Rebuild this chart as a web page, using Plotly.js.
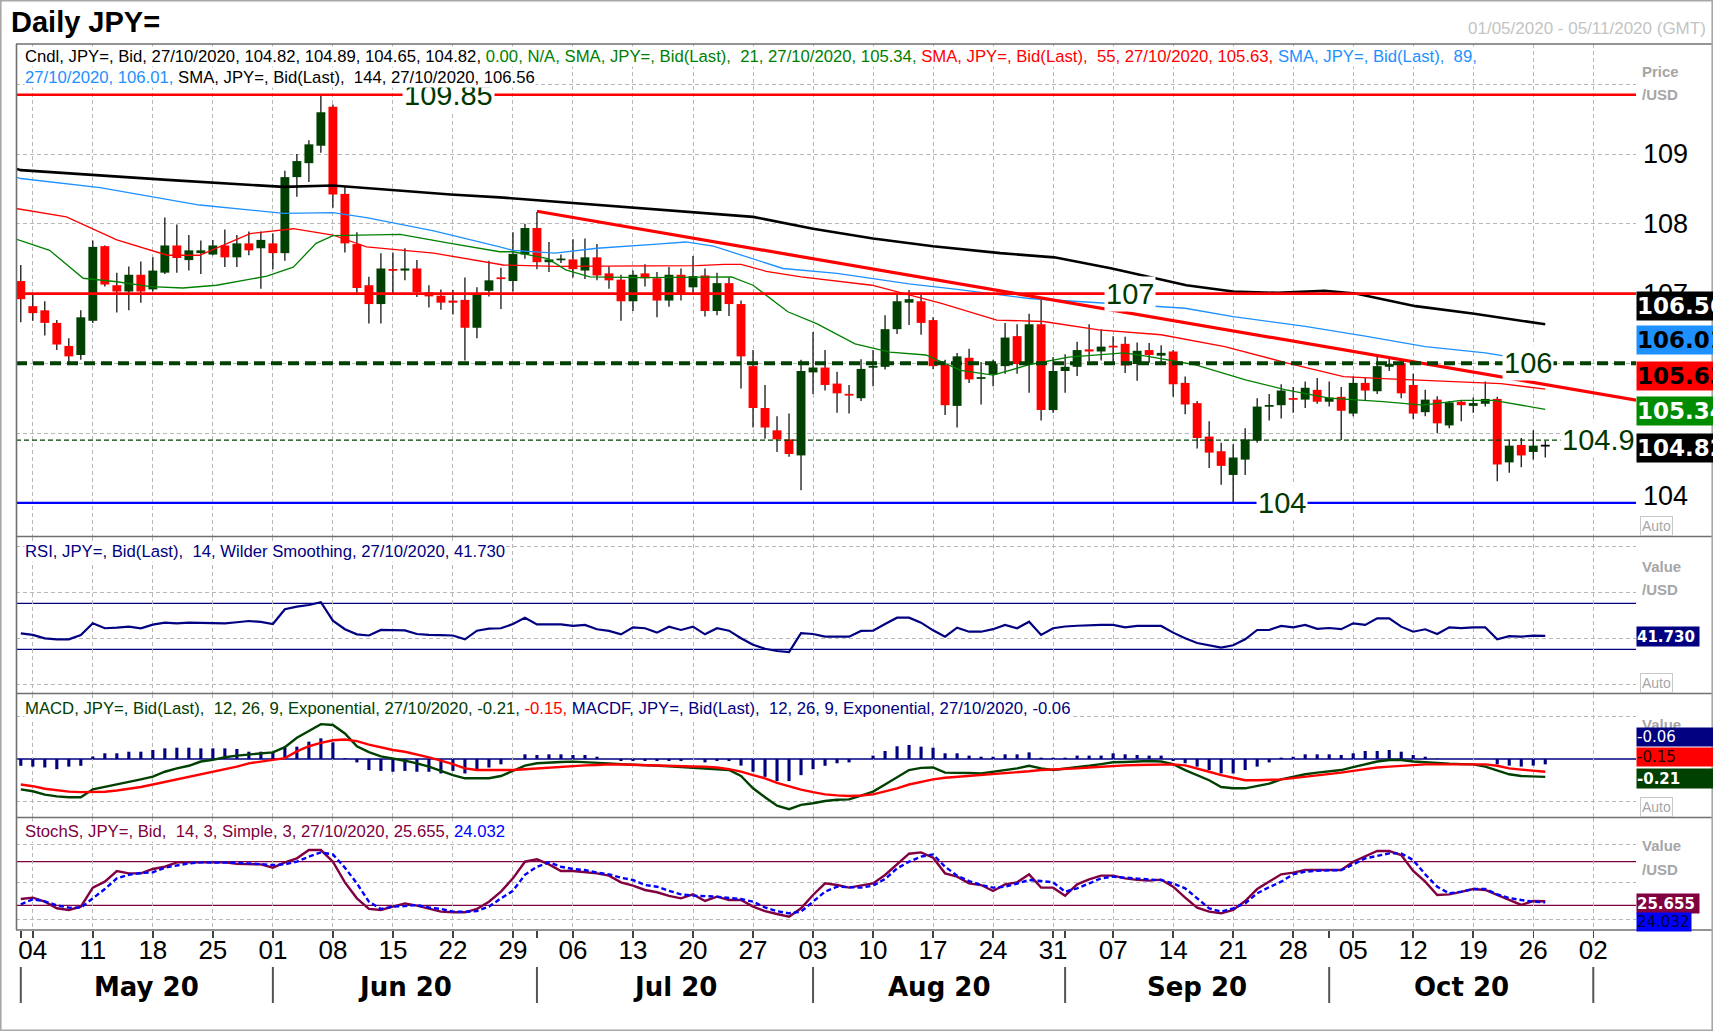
<!DOCTYPE html>
<html><head><meta charset="utf-8">
<script src="https://cdn.plot.ly/plotly-3.0.1.min.js"></script>
<style>html,body{margin:0;padding:0;background:#fff;}#chart{width:1713px;height:1031px;}</style>
</head><body><div id="chart"></div>
<script>
// ---------- DATA (daily JPY=, 01/05/2020 .. 27/10/2020, one row per week) ----------
const openP = [
 107.18,
 106.82,106.76,106.58,106.25,106.12,
 106.61,107.68,107.12,107.03,107.27,
 107.06,107.30,107.69,107.48,107.58,
 107.56,107.69,107.52,107.72,107.65,
 107.72,107.58,108.67,108.87,109.12,
 109.68,108.43,107.71,107.12,106.85,
 107.35,107.33,107.36,107.02,106.97,
 106.90,106.91,106.51,107.04,107.23,
 107.18,107.56,107.94,107.45,107.48,
 107.49,107.33,107.52,107.29,107.20,
 106.89,107.29,107.22,106.90,107.27,
 107.09,107.26,106.75,107.15,106.85,
 105.96,105.36,105.04,104.91,104.68,
 105.87,105.94,105.71,105.56,105.50,
 105.94,105.95,106.49,106.87,106.89,
 106.62,105.98,105.39,106.08,105.78,
 105.84,105.96,106.39,105.99,106.56,
 105.33,105.89,105.95,106.20,106.17,
 106.25,106.28,105.99,106.19,106.11,
 106.17,105.72,105.43,104.95,104.74,
 104.40,104.62,104.89,105.38,105.40,
 105.50,105.48,105.62,105.45,105.52,
 105.28,105.72,105.60,105.95,106.00,
 105.69,105.30,105.48,105.11,105.45,
 105.39,105.42,105.49,104.58,104.83,
 104.73,104.82];
const highP = [
 107.41,
 107.00,106.89,106.62,106.36,106.76,
 107.76,107.69,107.30,107.39,107.46,
 107.52,108.09,107.99,107.84,107.76,
 107.77,107.92,107.84,107.89,107.89,
 107.86,108.76,109.00,109.20,109.85,
 109.71,108.54,107.88,107.24,107.58,
 107.59,107.65,107.48,107.12,107.06,
 107.05,107.23,107.09,107.47,107.37,
 107.88,108.00,108.17,107.74,107.56,
 107.78,107.79,107.71,107.39,107.27,
 107.33,107.42,107.31,107.38,107.36,
 107.54,107.36,107.30,107.23,106.90,
 106.19,105.69,105.24,105.28,106.05,
 106.45,106.19,105.88,105.69,106.06,
 106.19,106.69,107.00,107.05,106.98,
 106.66,106.05,106.15,106.21,106.02,
 106.05,106.58,106.56,106.71,106.95,
 106.09,106.13,106.31,106.56,106.49,
 106.39,106.38,106.30,106.29,106.26,
 106.19,105.81,105.46,105.17,104.86,
 104.84,105.07,105.50,105.56,105.70,
 105.66,105.74,105.79,105.74,105.66,
 105.81,105.79,106.11,106.10,106.05,
 105.85,105.62,105.53,105.46,105.47,
 105.51,105.74,105.52,104.91,104.93,
 105.04,104.89];
const lowP = [
 106.59,
 106.61,106.40,106.19,105.99,106.05,
 106.58,107.10,106.73,106.76,106.87,
 107.03,107.28,107.30,107.33,107.28,
 107.55,107.38,107.38,107.55,107.07,
 107.35,107.47,108.39,108.60,109.02,
 108.23,107.59,106.98,106.57,106.57,
 107.00,107.19,106.95,106.80,106.77,
 106.70,106.04,106.36,106.96,106.78,
 107.03,107.50,107.35,107.31,107.44,
 107.23,107.21,107.19,107.07,106.61,
 106.75,107.10,106.66,106.81,106.90,
 107.01,106.67,106.69,106.68,105.64,
 105.08,104.92,104.73,104.66,104.18,
 105.56,105.61,105.29,105.28,105.46,
 105.67,105.91,106.42,106.55,106.41,
 105.92,105.26,105.08,105.72,105.41,
 105.67,105.85,105.85,105.58,105.18,
 105.29,105.58,105.82,106.03,106.04,
 106.00,105.86,105.75,106.01,105.98,
 105.52,105.27,104.78,104.50,104.26,
 104.00,104.40,104.86,105.18,105.21,
 105.29,105.36,105.42,105.38,104.90,
 105.24,105.46,105.56,105.89,105.50,
 105.20,105.24,105.00,105.07,105.17,
 105.29,105.38,104.31,104.43,104.51,
 104.62,104.65];
const closeP = [
 106.92,
 106.72,106.58,106.27,106.10,106.66,
 107.67,107.13,107.03,107.27,107.03,
 107.33,107.69,107.51,107.62,107.62,
 107.69,107.52,107.72,107.62,107.77,
 107.58,108.67,108.90,109.14,109.60,
 108.42,107.72,107.08,106.85,107.36,
 107.33,107.36,107.02,106.96,106.87,
 106.87,106.51,106.99,107.19,107.21,
 107.57,107.94,107.45,107.49,107.50,
 107.35,107.52,107.26,107.19,106.89,
 107.27,107.22,106.90,107.27,106.98,
 107.25,106.75,107.15,106.85,106.10,
 105.36,105.08,104.91,104.70,105.89,
 105.94,105.69,105.57,105.54,105.92,
 105.96,106.49,106.89,106.92,106.58,
 105.96,105.40,106.10,105.77,105.80,
 105.99,106.37,105.99,106.56,105.33,
 105.89,105.95,106.19,106.17,106.24,
 106.23,105.97,106.18,106.12,106.15,
 105.70,105.41,104.93,104.72,104.53,
 104.65,104.91,105.38,105.40,105.61,
 105.48,105.65,105.45,105.51,105.32,
 105.72,105.61,105.96,105.99,105.57,
 105.28,105.48,105.14,105.44,105.40,
 105.43,105.49,104.55,104.82,104.68,
 104.82,104.82];

// moving averages (x = trading-day position, 0 = 01/05)
const sma21X = [-0.4,2.4,5.2,8,10.8,13.5,16.3,20.5,22.7,24.6,26,30.2,31.6,35.8,39.9,41,43.9,45.4,47.4,51.8,56.3,59.2,61,63.9,66.3,69.5,72.4,75.4,78.3,79.4,81,84,87.3,91.9,93.9,97.8,102.1,105.4,109,113.5,116.8,120,122.7,127];
const sma21Y = [107.78,107.62,107.22,107.17,107.10,107.08,107.12,107.25,107.38,107.72,107.83,107.85,107.85,107.72,107.60,107.60,107.50,107.34,107.24,107.23,107.24,107.24,107.12,106.74,106.57,106.28,106.16,106.12,105.90,105.87,105.83,105.98,106.09,106.15,106.10,105.98,105.76,105.62,105.50,105.45,105.40,105.47,105.47,105.34];
const sma55X = [-0.4,3.8,8,12.2,14.9,19.1,22.7,26,28.8,34.4,40.2,44.6,56.3,58.6,60,62.1,65,70.9,76.7,81.3,85.2,89.8,95,100.3,105.6,110.2,113.5,120,123.3,127];
const sma55Y = [108.22,108.10,107.77,107.55,107.55,107.86,107.93,107.84,107.67,107.58,107.41,107.39,107.40,107.42,107.42,107.32,107.24,107.12,106.86,106.62,106.60,106.48,106.41,106.24,106.00,105.81,105.78,105.74,105.71,105.63];
const sma89X = [-0.4,0,6.6,14.9,21.9,26,28.8,34.4,39.9,41,44.5,48,53,55.4,57.7,61,63.5,68,74,78,84,92.5,97,101,107,112,117,122,127];
const sma89Y = [108.67,108.65,108.52,108.27,108.15,108.16,108.09,107.90,107.67,107.62,107.58,107.65,107.71,107.74,107.68,107.50,107.36,107.29,107.14,107.06,106.93,106.84,106.79,106.67,106.53,106.39,106.24,106.15,106.01];
const sma144X = [-0.4,0,12.2,21.9,26,31.6,35.8,39.9,46,56.2,61,66,71,76,79.6,81.6,86.1,90.9,97.1,101,104.7,108.6,111.2,116.2,121.1,127];
const sma144Y = [108.79,108.77,108.63,108.53,108.55,108.48,108.42,108.38,108.30,108.17,108.10,107.93,107.79,107.68,107.62,107.58,107.52,107.36,107.12,107.03,107.01,107.04,107.00,106.82,106.71,106.56];

// drawn levels
const trendX = [43, 135];
const trendY = [108.18, 105.46];
const levelValues = [109.85, 107, 106, 104, 104.9];
const levelLabels = ["109.85", "107", "106", "104", "104.9"];

// RSI 14 (one value per candle)
const rsiV = [
 43.9,
 42.5,39.5,38.7,38.7,42.5,
 52.6,48.3,48.8,49.7,48.3,
 51.5,53.2,52.6,53.2,53.2,
 53.2,52.6,53.5,54.6,53.8,
 52.0,64.8,67.1,68.5,70.9,
 54.9,47.5,43.0,42.0,46.8,
 46.8,46.5,43.3,42.5,42.4,
 42.0,38.7,46.2,48.0,48.3,
 52.0,57.5,51.7,51.7,51.7,
 50.3,51.2,47.4,46.0,43.0,
 49.1,48.3,44.5,49.7,46.8,
 49.7,43.0,48.3,46.2,39.6,
 34.0,30.5,28.5,27.5,44.0,
 43.3,41.0,41.0,41.0,46.0,
 46.2,52.0,57.5,57.5,53.2,
 46.5,41.0,48.8,45.3,45.3,
 47.5,51.2,48.3,54.0,42.5,
 48.3,49.8,50.5,51.0,51.2,
 51.2,49.1,50.3,50.0,50.3,
 44.5,39.6,35.5,33.5,31.5,
 33.5,38.7,46.8,46.8,50.3,
 49.1,51.2,47.8,48.5,47.5,
 52.6,51.2,56.9,56.9,49.7,
 45.3,47.4,43.3,49.1,48.5,
 49.1,49.1,38.7,41.5,41.0,
 41.9,41.73];

// MACD 12/26/9
const macdV = [
 -0.357,
 -0.38,-0.42,-0.44,-0.45,-0.45,
 -0.357,-0.33,-0.30,-0.27,-0.24,
 -0.208,-0.15,-0.11,-0.08,-0.03,
 -0.01,0.02,0.04,0.055,0.067,
 0.078,0.14,0.25,0.33,0.41,
 0.40,0.30,0.15,0.08,0.03,
 0.008,-0.02,-0.051,-0.09,-0.141,
 -0.19,-0.227,-0.227,-0.227,-0.20,
 -0.14,-0.078,-0.05,-0.039,-0.035,
 -0.031,-0.035,-0.045,-0.051,-0.06,
 -0.065,-0.07,-0.075,-0.085,-0.095,
 -0.105,-0.11,-0.12,-0.13,-0.20,
 -0.345,-0.45,-0.55,-0.59,-0.54,
 -0.52,-0.494,-0.48,-0.475,-0.43,
 -0.384,-0.30,-0.21,-0.13,-0.105,
 -0.10,-0.16,-0.16,-0.165,-0.17,
 -0.15,-0.13,-0.11,-0.08,-0.11,
 -0.13,-0.115,-0.10,-0.08,-0.06,
 -0.039,-0.035,-0.03,-0.024,-0.03,
 -0.06,-0.13,-0.19,-0.25,-0.33,
 -0.345,-0.345,-0.32,-0.29,-0.24,
 -0.21,-0.18,-0.16,-0.145,-0.13,
 -0.095,-0.06,-0.03,-0.012,-0.012,
 -0.03,-0.04,-0.05,-0.055,-0.06,
 -0.063,-0.09,-0.135,-0.18,-0.20,
 -0.205,-0.21];
const signalV = [
 -0.30,
 -0.32,-0.35,-0.37,-0.384,-0.39,
 -0.39,-0.385,-0.37,-0.35,-0.33,
 -0.30,-0.27,-0.245,-0.215,-0.18,
 -0.15,-0.12,-0.09,-0.051,-0.03,
 -0.012,0.01,0.09,0.15,0.19,
 0.22,0.23,0.21,0.17,0.14,
 0.106,0.085,0.055,0.02,-0.02,
 -0.06,-0.11,-0.129,-0.13,-0.13,
 -0.13,-0.12,-0.11,-0.10,-0.09,
 -0.08,-0.075,-0.07,-0.063,-0.065,
 -0.07,-0.075,-0.078,-0.08,-0.085,
 -0.088,-0.09,-0.10,-0.12,-0.149,
 -0.19,-0.227,-0.28,-0.32,-0.36,
 -0.39,-0.416,-0.428,-0.435,-0.43,
 -0.416,-0.38,-0.345,-0.30,-0.267,
 -0.24,-0.22,-0.21,-0.20,-0.19,
 -0.18,-0.17,-0.155,-0.145,-0.13,
 -0.125,-0.12,-0.11,-0.10,-0.09,
 -0.08,-0.075,-0.07,-0.065,-0.063,
 -0.063,-0.075,-0.11,-0.15,-0.19,
 -0.22,-0.25,-0.25,-0.245,-0.24,
 -0.225,-0.21,-0.195,-0.18,-0.16,
 -0.14,-0.12,-0.10,-0.09,-0.08,
 -0.07,-0.063,-0.063,-0.063,-0.063,
 -0.063,-0.063,-0.08,-0.11,-0.125,
 -0.14,-0.15];
const histV = [
 -0.08,
 -0.09,-0.10,-0.12,-0.09,-0.08,
 0.03,0.067,0.067,0.086,0.086,
 0.106,0.125,0.133,0.133,0.125,
 0.125,0.125,0.118,0.086,0.086,
 0.078,0.133,0.145,0.204,0.243,
 0.196,0.01,-0.04,-0.13,-0.14,
 -0.15,-0.14,-0.15,-0.15,-0.17,
 -0.14,-0.17,-0.13,-0.10,-0.063,
 0.0,0.055,0.047,0.055,0.055,
 0.047,0.047,0.027,0.0,-0.024,
 -0.024,-0.024,-0.024,-0.024,-0.024,
 0.0,-0.04,-0.024,-0.024,-0.078,
 -0.15,-0.21,-0.26,-0.26,-0.19,
 -0.12,-0.08,-0.05,-0.04,0.0,
 0.04,0.094,0.15,0.165,0.145,
 0.133,0.067,0.067,0.04,0.027,
 0.027,0.055,0.055,0.078,0.016,
 0.016,0.016,0.04,0.04,0.04,
 0.067,0.055,0.047,0.04,0.04,
 -0.024,-0.05,-0.09,-0.13,-0.17,
 -0.17,-0.13,-0.09,-0.04,0.016,
 0.027,0.055,0.055,0.055,0.047,
 0.067,0.094,0.094,0.106,0.086,
 0.047,0.027,0.005,0,0,
 0,0,-0.063,-0.078,-0.09,
 -0.078,-0.063];

// Slow stochastic 14,3,3
const stochK = [
 28.7,
 30.5,25,15.9,13.6,18.2,
 44.3,52.5,67.2,64,64,
 70,73.1,79.1,79.1,79.1,
 79.1,79.1,77,76.3,76.3,
 71.8,79.1,84.6,96,96,
 80,51.6,29.6,15,13.6,
 18.2,22.7,19.5,15.9,11.3,
 10.4,10.4,15,25,38.8,
 57.1,80,83.2,76.3,67.2,
 67.2,66,64,60.8,51.6,
 47,41.1,38,33,29.6,
 35.1,26,31.9,27.3,27.3,
 18.2,12,8,4.4,15.9,
 34.2,50.2,47.9,44.3,47,
 50.2,61.7,76.3,91,92.8,
 85.5,64,59.4,50.2,47.9,
 39.7,48.8,51.6,62.6,44.3,
 44.3,33.3,48.8,55.7,60.8,
 60.8,57.1,55,53.9,55.3,
 45.6,30.5,16.8,11.3,9,
 13.6,25.9,42.4,52.5,62.6,
 64.9,68.5,68.5,68.5,68.5,
 80,86.9,94.7,94.7,89.2,
 67.2,52.5,34.2,35.1,38.5,
 42.4,41.1,34.2,27,20.5,
 25.9,25.655];
const stochD = [
 21.4,
 28.2,25.5,20,16.8,16.8,
 29.6,42.4,57.1,62,64.5,
 65.3,71.8,75,77.7,79.1,
 79.1,79.1,78.5,77.7,76.5,
 75.4,76.5,80,86.9,92.8,
 90,71.8,50.2,25,15,
 18.2,19,20.4,17,15,
 11.3,11,12.2,18.2,29.6,
 40,62,73,79.1,73.1,
 70,68.5,65,62.6,58,
 54.8,48,45.6,40,35.1,
 33.3,32.5,31.9,30,28.7,
 25,17,12,9,11.3,
 25,38.8,45.6,45,44.3,
 47,56.2,70.8,80,86.9,
 90,73.1,60.8,53.4,48,
 44.3,45.6,50,54.8,53.4,
 51.6,38.8,43.4,50,57.1,
 59.4,58,56.2,55.5,54.8,
 50,43.4,29.6,15.9,11.3,
 15.9,22.7,36.5,45,52.5,
 62.6,66.3,67.5,68.5,68.5,
 76.3,84.6,88,91.5,91.5,
 82.3,62.6,45.6,36.5,38.8,
 42.4,42.4,35.1,30,27.3,
 25,24.032];

// axis labels
const dayLabels = ["04","11","18","25","01","08","15","22","29","06","13","20","27","03","10","17","24","31","07","14","21","28","05","12","19","26","02"];
const mondayPos = [1,6,11,16,21,26,31,36,41,46,51,56,61,66,71,76,81,86,91,96,101,106,111,116,121,126,131];
const monthLabels = ["May 20","Jun 20","Jul 20","Aug 20","Sep 20","Oct 20"];
const monthStart = [0,21,43,66,87,109,131];
const priceTicks = [104,107,108,109];

// ---------- BUILD ----------
const GREEN = '#004000', RED = '#ff0000', NAVY = '#000080', MAROON = '#800040', BLUE89 = '#1e90ff';
const N = openP.length;
const days = openP.map((_, k) => k);
const bodyLen = openP.map((o, k) => Math.max(Math.abs(closeP[k] - o), 0.025));
const bodyBase = openP.map((o, k) => (o + closeP[k]) / 2 - bodyLen[k] / 2);
const bodyCol = openP.map((o, k) => closeP[k] > o ? GREEN : (closeP[k] < o ? RED : '#000000'));
const wickLen = highP.map((h, k) => h - lowP[k]);
const last = a => a[a.length - 1];

const traces = [
  {type:'bar', x:days, base:lowP, y:wickLen, width:0.1, marker:{color:'#000', line:{width:0}}, xaxis:'x', yaxis:'y'},
  {type:'bar', x:days, base:bodyBase, y:bodyLen, width:0.74, marker:{color:bodyCol, line:{width:0}}, xaxis:'x', yaxis:'y'},
  {type:'scatter', mode:'lines', x:sma144X, y:sma144Y, line:{color:'#000', width:2.6}, yaxis:'y'},
  {type:'scatter', mode:'lines', x:sma89X, y:sma89Y, line:{color:BLUE89, width:1.3}, yaxis:'y'},
  {type:'scatter', mode:'lines', x:sma55X, y:sma55Y, line:{color:RED, width:1.3}, yaxis:'y'},
  {type:'scatter', mode:'lines', x:sma21X, y:sma21Y, line:{color:'#008000', width:1.3}, yaxis:'y'},
  {type:'scatter', mode:'lines', x:trendX, y:trendY, line:{color:RED, width:3.2}, yaxis:'y'},
  {type:'scatter', mode:'lines', x:days, y:rsiV, line:{color:NAVY, width:2.2}, yaxis:'y2'},
  {type:'bar', x:days, y:histV, width:0.26, marker:{color:NAVY, line:{width:0}}, yaxis:'y3'},
  {type:'scatter', mode:'lines', x:days, y:macdV, line:{color:GREEN, width:2.4}, yaxis:'y3'},
  {type:'scatter', mode:'lines', x:days, y:signalV, line:{color:RED, width:2.4}, yaxis:'y3'},
  {type:'scatter', mode:'lines', x:days, y:stochK, line:{color:MAROON, width:2.4}, yaxis:'y4'},
  {type:'scatter', mode:'lines', x:days, y:stochD, line:{color:'#0000ff', width:2.4, dash:'5px,3px'}, yaxis:'y4'}
];

// page pixel -> paper helpers (plot area: x 16..1636, y 44..930)
const PX = px => (px - 16) / 1620;
const PY = py => (930 - py) / 886;
const LS = 'Liberation Sans, Arial, sans-serif';
const DV = 'DejaVu Sans, Verdana, sans-serif';
const GRID = '#b8b8b8';

function note(px, py, text, font, extra) {
  return Object.assign({xref:'paper', yref:'paper', x:PX(px), y:PY(py), text:text, font:font,
    showarrow:false, xanchor:'left', yanchor:'middle'}, extra || {});
}
function box(py, text, bg, fg, size, w, h) {
  return note(1636, py, text, {family:DV, size:size, color:fg},
    {bgcolor:bg, width:w, height:h, align:'left', borderpad:0});
}
const f2 = v => v.toFixed(2);
const sp = '\u00a0';

const ann = [];
ann.push(note(9, 22, '<b>Daily JPY=</b>', {family:LS, size:29, color:'#000'}));
ann.push(note(1708, 28, '01/05/2020 - 05/11/2020 (GMT)', {family:LS, size:17, color:'#c4c4c4'}, {xanchor:'right'}));

// level labels (drawn before the legend so the legend sits on top)
const levelLabelPos = [35.6, 92.4, 125.6, 105.1, 131.4];
levelValues.forEach((v, j) => ann.push({xref:'x', yref:'y', x:levelLabelPos[j], y:v, text:levelLabels[j],
  showarrow:false, xanchor:'center', yanchor:'middle', bgcolor:'#fff', borderpad:1,
  font:{family:LS, size:29, color:'#003800'}}));

const LEG = {family:LS, size:16.7, color:'#000'};
ann.push(note(24, 56,
  `<span style="color:#000">Cndl, JPY=, Bid, 27/10/2020, ${f2(openP[N-1])}, ${f2(highP[N-1])}, ${f2(lowP[N-1])}, ${f2(closeP[N-1])}, </span>` +
  `<span style="color:#008000">0.00, N/A, SMA, JPY=, Bid(Last), ${sp}21, 27/10/2020, ${f2(last(sma21Y))}, </span>` +
  `<span style="color:#ff0000">SMA, JPY=, Bid(Last), ${sp}55, 27/10/2020, ${f2(last(sma55Y))}, </span>` +
  `<span style="color:${BLUE89}">SMA, JPY=, Bid(Last), ${sp}89,</span>`, LEG, {bgcolor:'#fff', borderpad:0}));
ann.push(note(24, 77,
  `<span style="color:${BLUE89}">27/10/2020, ${f2(last(sma89Y))}, </span>` +
  `<span style="color:#000">SMA, JPY=, Bid(Last), ${sp}144, 27/10/2020, ${f2(last(sma144Y))}</span>`, LEG, {bgcolor:'#fff', borderpad:0}));
ann.push(note(24, 551, `RSI, JPY=, Bid(Last), ${sp}14, Wilder Smoothing, 27/10/2020, ${last(rsiV).toFixed(3)}`,
  {family:LS, size:16.7, color:NAVY}, {bgcolor:'#fff', borderpad:0}));
ann.push(note(24, 708,
  `<span style="color:${GREEN}">MACD, JPY=, Bid(Last), ${sp}12, 26, 9, Exponential, 27/10/2020, ${f2(last(macdV))}, </span>` +
  `<span style="color:#ff0000">${f2(last(signalV))}, </span>` +
  `<span style="color:${NAVY}">MACDF, JPY=, Bid(Last), ${sp}12, 26, 9, Exponential, 27/10/2020, ${f2(last(histV))}</span>`,
  {family:LS, size:16.7, color:NAVY}, {bgcolor:'#fff', borderpad:0}));
ann.push(note(24, 831,
  `<span style="color:${MAROON}">StochS, JPY=, Bid, ${sp}14, 3, Simple, 3, 27/10/2020, ${last(stochK).toFixed(3)}, </span>` +
  `<span style="color:#0000ff">${last(stochD).toFixed(3)}</span>`, {family:LS, size:16.7, color:MAROON}, {bgcolor:'#fff', borderpad:0}));

// right-side captions
const cap = {family:LS, size:15, color:'#a6a6a6'};
ann.push(note(1640, 71, '<b>Price</b>', cap));
ann.push(note(1640, 94, '<b>/USD</b>', cap));
ann.push(note(1640, 566, '<b>Value</b>', cap));
ann.push(note(1640, 589, '<b>/USD</b>', cap));
ann.push(note(1640, 724, '<b>Value</b>', cap));
ann.push(note(1640, 845, '<b>Value</b>', cap));
ann.push(note(1640, 869, '<b>/USD</b>', cap));
[526, 683, 807].forEach(py => ann.push(note(1640, py, 'Auto', {family:LS, size:14, color:'#a6a6a6'},
  {bordercolor:'#c8c8c8', borderwidth:1, borderpad:1})));

// price tick labels
priceTicks.forEach(v => ann.push({xref:'paper', yref:'y', x:PX(1641), y:v, text:String(v), showarrow:false,
  xanchor:'left', yanchor:'middle', yshift: v === 104 ? 7 : 0, font:{family:LS, size:27, color:'#000'}}));

// value boxes
ann.push(box(306, '<b>' + f2(last(sma144Y)) + '</b>', '#000', '#fff', 23, 95, 28));
ann.push(box(340, '<b>' + f2(last(sma89Y)) + '</b>', BLUE89, '#000', 23, 95, 28));
ann.push(box(376, '<b>' + f2(last(sma55Y)) + '</b>', '#ff0000', '#000', 23, 95, 28));
ann.push(box(411, '<b>' + f2(last(sma21Y)) + '</b>', '#008c00', '#fff', 23, 95, 28));
ann.push(box(448, '<b>' + f2(closeP[N-1]) + '</b>', '#000', '#fff', 23, 95, 28));
ann.push(box(636, '<b>' + last(rsiV).toFixed(3) + '</b>', NAVY, '#fff', 15, 62, 19));
ann.push(box(737, f2(last(histV)), NAVY, '#fff', 15, 80, 18));
ann.push(box(756.5, f2(last(signalV)), '#ff0000', '#200000', 15, 80, 18));
ann.push(box(778, '<b>' + f2(last(macdV)) + '</b>', GREEN, '#fff', 15, 80, 19));
ann.push(box(903, '<b>' + last(stochK).toFixed(3) + '</b>', MAROON, '#fff', 15, 62, 19));
ann.push(box(922, last(stochD).toFixed(3), '#0000ff', '#000040', 15, 54, 18));

// month labels
monthLabels.forEach((m, j) => ann.push({xref:'x', yref:'paper', x:(monthStart[j] + monthStart[j+1]) / 2, y:PY(987),
  text:'<b>' + m + '</b>', showarrow:false, xanchor:'center', yanchor:'middle', font:{family:DV, size:26, color:'#000'}}));

// shapes
const shapes = [];
const hline = (yref, v, color, width, dash, layer) => ({type:'line', xref:'paper', x0:0, x1:1, yref:yref, y0:v, y1:v,
  line:{color:color, width:width, dash:dash || 'solid'}, layer:layer || 'above'});
shapes.push(hline('y', levelValues[0], RED, 2.6));
shapes.push(hline('y', levelValues[1], RED, 2.6));
shapes.push(hline('y', levelValues[2], GREEN, 4, '11px,6px'));
shapes.push(hline('y', levelValues[3], '#0000ff', 2.2));
shapes.push(hline('y', levelValues[4], GREEN, 1.3, '5px,3px'));
shapes.push(hline('y2', 70, NAVY, 1.3, null, 'below'));
shapes.push(hline('y2', 30, NAVY, 1.3, null, 'below'));
shapes.push(hline('y3', 0, NAVY, 1.6, null, 'below'));
shapes.push(hline('y4', 80, MAROON, 1.3, null, 'below'));
shapes.push(hline('y4', 20, MAROON, 1.3, null, 'below'));
// panel frame
[44, 536.5, 693.5, 817.5, 930].forEach(py => shapes.push({type:'line', xref:'paper', yref:'paper',
  x0:PX(16), x1:PX(1713), y0:PY(py), y1:PY(py), line:{color:'#707070', width:1.6}}));
shapes.push({type:'line', xref:'paper', yref:'paper', x0:PX(16.5), x1:PX(16.5), y0:PY(44), y1:PY(930), line:{color:'#707070', width:1.6}});
shapes.push({type:'rect', xref:'paper', yref:'paper', x0:PX(0.8), x1:PX(1712.2), y0:PY(0.8), y1:PY(1030.2), line:{color:'#a8a8a8', width:1.6}});
// month separators
monthStart.forEach(k => shapes.push({type:'line', xref:'x', yref:'paper', x0:k, x1:k, y0:PY(967), y1:PY(1003),
  line:{color:'#555', width:2}}));

const yCommon = {showticklabels:false, ticks:'', zeroline:false, showline:false, showgrid:true,
  gridcolor:GRID, gridwidth:1, griddash:'4px,3px', anchor:'x', fixedrange:true};

const layout = {
  width:1713, height:1031,
  margin:{l:16, r:77, t:44, b:101, pad:0},
  paper_bgcolor:'#fff', plot_bgcolor:'#fff',
  showlegend:false, hovermode:false, barmode:'overlay',
  xaxis:{range:[-0.4, 134.56], anchor:'y4', tickmode:'array', tickvals:mondayPos, ticktext:dayLabels,
    ticks:'outside', ticklen:7, tickwidth:1.5, tickcolor:'#444', ticklabelstandoff:-10,
    tickfont:{family:LS, size:26, color:'#000'},
    minor:{tickmode:'array', tickvals:monthStart, ticks:'outside', ticklen:7, tickwidth:1.5, tickcolor:'#444', showgrid:false},
    showgrid:true, gridcolor:GRID, gridwidth:1, griddash:'4px,3px', zeroline:false, showline:false, fixedrange:true},
  yaxis:Object.assign({}, yCommon, {domain:[0.4447, 1], range:[103.5247, 110.5785], tickvals:[104,105,106,107,108,109,110]}),
  yaxis2:Object.assign({}, yCommon, {domain:[0.26749, 0.44357], range:[-8.0, 127.65], tickvals:[-1,39,79,119]}),
  yaxis3:Object.assign({}, yCommon, {domain:[0.12754, 0.26637], range:[-0.6824, 0.7647], tickvals:[-0.5,0.5]}),
  yaxis4:Object.assign({}, yCommon, {domain:[0, 0.12641], range:[-13.95, 140.11], tickvals:[0,51,103]}),
  annotations:ann, shapes:shapes
};

Plotly.newPlot('chart', traces, layout, {staticPlot:true, displayModeBar:false});
</script></body></html>
